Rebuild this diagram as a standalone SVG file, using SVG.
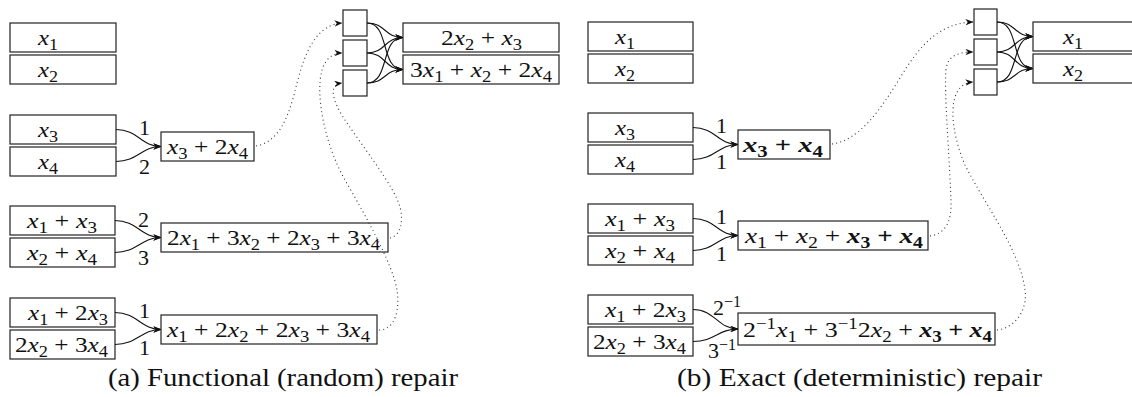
<svg xmlns="http://www.w3.org/2000/svg" width="1132" height="397" viewBox="0 0 1132 397">
<style>
.bx{fill:#fff;stroke:#222;stroke-width:1.2}
.m{font-family:"Liberation Serif",serif;font-size:22px;fill:#111}
.i{font-style:italic}
.s{font-size:16px}
.b{font-weight:bold;font-style:italic}
.bn{font-weight:bold}
.cap{font-family:"Liberation Serif",serif;font-size:25px;fill:#111}
.ar{fill:none;stroke:#111;stroke-width:1.1;marker-end:url(#ah)}
.dt{fill:none;stroke:#333;stroke-width:1.1;stroke-dasharray:1 3.2;marker-end:url(#ah)}
</style>
<defs>
<marker id="ah" viewBox="0 0 10 8" refX="9.5" refY="4" markerWidth="8" markerHeight="6.4" markerUnits="userSpaceOnUse" orient="auto"><path d="M0,0 L10,4 L0,8 L3,4 z" fill="#111"/></marker>
</defs>
<rect width="1132" height="397" fill="#fff"/>

<g id="a-x1"><rect class="bx" x="10" y="23" width="106" height="29"/><text class="m" x="38" y="45" textLength="20" lengthAdjust="spacingAndGlyphs"><tspan class="i">x</tspan><tspan class="s" dy="5">1</tspan></text></g>
<g id="a-x2"><rect class="bx" x="10" y="55" width="106" height="29"/><text class="m" x="38" y="77" textLength="20" lengthAdjust="spacingAndGlyphs"><tspan class="i">x</tspan><tspan class="s" dy="5">2</tspan></text></g>
<g id="a-x3"><rect class="bx" x="10" y="115" width="106" height="29"/><text class="m" x="38" y="137" textLength="20" lengthAdjust="spacingAndGlyphs"><tspan class="i">x</tspan><tspan class="s" dy="5">3</tspan></text></g>
<g id="a-x4"><rect class="bx" x="10" y="147" width="106" height="29"/><text class="m" x="38" y="169" textLength="20" lengthAdjust="spacingAndGlyphs"><tspan class="i">x</tspan><tspan class="s" dy="5">4</tspan></text></g>
<g id="a-s1"><rect class="bx" x="161" y="132" width="93" height="29"/><text class="m" x="167" y="154" textLength="81" lengthAdjust="spacingAndGlyphs"><tspan class="i">x</tspan><tspan class="s" dy="5">3</tspan><tspan dy="-5"> + 2</tspan><tspan class="i">x</tspan><tspan class="s" dy="5">4</tspan></text></g>

<g id="a-x1x3"><rect class="bx" x="10" y="206" width="105" height="29"/><text class="m" x="27" y="228" textLength="70" lengthAdjust="spacingAndGlyphs"><tspan class="i">x</tspan><tspan class="s" dy="5">1</tspan><tspan dy="-5"> + </tspan><tspan class="i">x</tspan><tspan class="s" dy="5">3</tspan></text></g>
<g id="a-x2x4"><rect class="bx" x="10" y="238" width="105" height="29"/><text class="m" x="27" y="260" textLength="70" lengthAdjust="spacingAndGlyphs"><tspan class="i">x</tspan><tspan class="s" dy="5">2</tspan><tspan dy="-5"> + </tspan><tspan class="i">x</tspan><tspan class="s" dy="5">4</tspan></text></g>
<g id="a-s2"><rect class="bx" x="161" y="223" width="227" height="29"/><text class="m" x="167" y="245" textLength="213" lengthAdjust="spacingAndGlyphs"><tspan>2</tspan><tspan class="i">x</tspan><tspan class="s" dy="5">1</tspan><tspan dy="-5"> + 3</tspan><tspan class="i">x</tspan><tspan class="s" dy="5">2</tspan><tspan dy="-5"> + 2</tspan><tspan class="i">x</tspan><tspan class="s" dy="5">3</tspan><tspan dy="-5"> + 3</tspan><tspan class="i">x</tspan><tspan class="s" dy="5">4</tspan></text></g>

<g id="a-x1x3b"><rect class="bx" x="10" y="298" width="105" height="29"/><text class="m" x="28" y="320" textLength="80" lengthAdjust="spacingAndGlyphs"><tspan class="i">x</tspan><tspan class="s" dy="5">1</tspan><tspan dy="-5"> + 2</tspan><tspan class="i">x</tspan><tspan class="s" dy="5">3</tspan></text></g>
<g id="a-x2x4b"><rect class="bx" x="10" y="330" width="105" height="29"/><text class="m" x="15" y="352" textLength="93" lengthAdjust="spacingAndGlyphs"><tspan>2</tspan><tspan class="i">x</tspan><tspan class="s" dy="5">2</tspan><tspan dy="-5"> + 3</tspan><tspan class="i">x</tspan><tspan class="s" dy="5">4</tspan></text></g>
<g id="a-s3"><rect class="bx" x="161" y="315" width="216" height="29"/><text class="m" x="167" y="337" textLength="203" lengthAdjust="spacingAndGlyphs"><tspan class="i">x</tspan><tspan class="s" dy="5">1</tspan><tspan dy="-5"> + 2</tspan><tspan class="i">x</tspan><tspan class="s" dy="5">2</tspan><tspan dy="-5"> + 2</tspan><tspan class="i">x</tspan><tspan class="s" dy="5">3</tspan><tspan dy="-5"> + 3</tspan><tspan class="i">x</tspan><tspan class="s" dy="5">4</tspan></text></g>

<g id="a-n1"><rect class="bx" x="343" y="10" width="24" height="26"/></g>
<g id="a-n2"><rect class="bx" x="343" y="40" width="24" height="26"/></g>
<g id="a-n3"><rect class="bx" x="343" y="70" width="24" height="26"/></g>
<g id="a-o1"><rect class="bx" x="403" y="23" width="156" height="29"/><text class="m" x="441" y="45" textLength="81" lengthAdjust="spacingAndGlyphs"><tspan>2</tspan><tspan class="i">x</tspan><tspan class="s" dy="5">2</tspan><tspan dy="-5"> + </tspan><tspan class="i">x</tspan><tspan class="s" dy="5">3</tspan></text></g>
<g id="a-o2"><rect class="bx" x="403" y="55" width="156" height="29"/><text class="m" x="410" y="77" textLength="142" lengthAdjust="spacingAndGlyphs"><tspan>3</tspan><tspan class="i">x</tspan><tspan class="s" dy="5">1</tspan><tspan dy="-5"> + </tspan><tspan class="i">x</tspan><tspan class="s" dy="5">2</tspan><tspan dy="-5"> + 2</tspan><tspan class="i">x</tspan><tspan class="s" dy="5">4</tspan></text></g>

<g id="a-labels" class="m">
<text x="139" y="135">1</text><text x="139" y="174">2</text>
<text x="138" y="227">2</text><text x="138" y="265">3</text>
<text x="139" y="318">1</text><text x="139" y="355">1</text>
</g>
<text id="cap-a" class="cap" x="108" y="386" textLength="350" lengthAdjust="spacingAndGlyphs">(a) Functional (random) repair</text>

<g id="b-x1"><rect class="bx" x="588" y="22" width="105" height="29"/><text class="m" x="615" y="44" textLength="20" lengthAdjust="spacingAndGlyphs"><tspan class="i">x</tspan><tspan class="s" dy="5">1</tspan></text></g>
<g id="b-x2"><rect class="bx" x="588" y="54" width="105" height="29"/><text class="m" x="615" y="76" textLength="20" lengthAdjust="spacingAndGlyphs"><tspan class="i">x</tspan><tspan class="s" dy="5">2</tspan></text></g>
<g id="b-x3"><rect class="bx" x="588" y="113" width="105" height="29"/><text class="m" x="615" y="135" textLength="20" lengthAdjust="spacingAndGlyphs"><tspan class="i">x</tspan><tspan class="s" dy="5">3</tspan></text></g>
<g id="b-x4"><rect class="bx" x="588" y="145" width="105" height="29"/><text class="m" x="615" y="167" textLength="20" lengthAdjust="spacingAndGlyphs"><tspan class="i">x</tspan><tspan class="s" dy="5">4</tspan></text></g>
<g id="b-s1"><rect class="bx" x="738" y="130" width="92" height="29"/><text class="m" x="743" y="152" textLength="80" lengthAdjust="spacingAndGlyphs"><tspan class="b">x</tspan><tspan class="s bn" dy="5">3</tspan><tspan class="bn" dy="-5"> + </tspan><tspan class="b">x</tspan><tspan class="s bn" dy="5">4</tspan></text></g>

<g id="b-x1x3"><rect class="bx" x="588" y="204" width="105" height="29"/><text class="m" x="605" y="226" textLength="70" lengthAdjust="spacingAndGlyphs"><tspan class="i">x</tspan><tspan class="s" dy="5">1</tspan><tspan dy="-5"> + </tspan><tspan class="i">x</tspan><tspan class="s" dy="5">3</tspan></text></g>
<g id="b-x2x4"><rect class="bx" x="588" y="236" width="105" height="29"/><text class="m" x="605" y="258" textLength="70" lengthAdjust="spacingAndGlyphs"><tspan class="i">x</tspan><tspan class="s" dy="5">2</tspan><tspan dy="-5"> + </tspan><tspan class="i">x</tspan><tspan class="s" dy="5">4</tspan></text></g>
<g id="b-s2"><rect class="bx" x="738" y="221" width="190" height="29"/><text class="m" x="745" y="243" textLength="178" lengthAdjust="spacingAndGlyphs"><tspan class="i">x</tspan><tspan class="s" dy="5">1</tspan><tspan dy="-5"> + </tspan><tspan class="i">x</tspan><tspan class="s" dy="5">2</tspan><tspan dy="-5"> + </tspan><tspan class="b">x</tspan><tspan class="s bn" dy="5">3</tspan><tspan class="bn" dy="-5"> + </tspan><tspan class="b">x</tspan><tspan class="s bn" dy="5">4</tspan></text></g>

<g id="b-x1x3b"><rect class="bx" x="588" y="295" width="105" height="29"/><text class="m" x="605" y="317" textLength="81" lengthAdjust="spacingAndGlyphs"><tspan class="i">x</tspan><tspan class="s" dy="5">1</tspan><tspan dy="-5"> + 2</tspan><tspan class="i">x</tspan><tspan class="s" dy="5">3</tspan></text></g>
<g id="b-x2x4b"><rect class="bx" x="588" y="327" width="105" height="29"/><text class="m" x="593" y="349" textLength="93" lengthAdjust="spacingAndGlyphs"><tspan>2</tspan><tspan class="i">x</tspan><tspan class="s" dy="5">2</tspan><tspan dy="-5"> + 3</tspan><tspan class="i">x</tspan><tspan class="s" dy="5">4</tspan></text></g>
<g id="b-s3"><rect class="bx" x="738" y="313" width="257" height="32"/><text class="m" x="743" y="337" textLength="249" lengthAdjust="spacingAndGlyphs"><tspan>2</tspan><tspan class="s" dy="-8">−1</tspan><tspan class="i" dy="8">x</tspan><tspan class="s" dy="5">1</tspan><tspan dy="-5"> + 3</tspan><tspan class="s" dy="-8">−1</tspan><tspan dy="8">2</tspan><tspan class="i">x</tspan><tspan class="s" dy="5">2</tspan><tspan dy="-5"> + </tspan><tspan class="b">x</tspan><tspan class="s bn" dy="5">3</tspan><tspan class="bn" dy="-5"> + </tspan><tspan class="b">x</tspan><tspan class="s bn" dy="5">4</tspan></text></g>

<g id="b-n1"><rect class="bx" x="974" y="9" width="23" height="26"/></g>
<g id="b-n2"><rect class="bx" x="974" y="39" width="23" height="26"/></g>
<g id="b-n3"><rect class="bx" x="974" y="69" width="23" height="26"/></g>
<g id="b-o1"><rect class="bx" x="1033" y="22" width="110" height="29"/><text class="m" x="1063" y="44" textLength="20" lengthAdjust="spacingAndGlyphs"><tspan class="i">x</tspan><tspan class="s" dy="5">1</tspan></text></g>
<g id="b-o2"><rect class="bx" x="1033" y="54" width="110" height="29"/><text class="m" x="1063" y="76" textLength="20" lengthAdjust="spacingAndGlyphs"><tspan class="i">x</tspan><tspan class="s" dy="5">2</tspan></text></g>

<g id="b-labels" class="m">
<text x="716" y="133">1</text><text x="716" y="169">1</text>
<text x="716" y="224">1</text><text x="716" y="261">1</text>
<text x="713" y="315">2<tspan class="s" dy="-8">−1</tspan></text>
<text x="708" y="358">3<tspan class="s" dy="-8">−1</tspan></text>
</g>
<text id="cap-b" class="cap" x="677" y="386" textLength="365" lengthAdjust="spacingAndGlyphs">(b) Exact (deterministic) repair</text>

<g id="connectors">
<path class="ar" d="M116 129.5 C138 129.5,141 146.5,161 146.5"/>
<path class="ar" d="M116 161.5 C138 161.5,141 146.5,161 146.5"/>
<path class="ar" d="M115 220.5 C137 220.5,141 237.5,161 237.5"/>
<path class="ar" d="M115 252.5 C137 252.5,141 237.5,161 237.5"/>
<path class="ar" d="M115 312.5 C137 312.5,141 329.5,161 329.5"/>
<path class="ar" d="M115 344.5 C137 344.5,141 329.5,161 329.5"/>
<path class="ar" d="M367 23 C386 23,384 37.5,403 37.5"/>
<path class="ar" d="M367 23 C390 23,380 69.5,403 69.5"/>
<path class="ar" d="M367 53 C386 53,384 37.5,403 37.5"/>
<path class="ar" d="M367 53 C386 53,384 69.5,403 69.5"/>
<path class="ar" d="M367 83 C390 83,380 37.5,403 37.5"/>
<path class="ar" d="M367 83 C386 83,384 69.5,403 69.5"/>
<path class="dt" d="M256 146 C278 142,287 120,294 95 C302 62,312 25,342 23"/>
<path class="dt" d="M390 238 C400 236,404 222,400 207 C394 186,365 150,345 120 C335 105,326 85,342 83"/>
<path class="dt" d="M379 330 C395 330,400 310,397 290 C392 262,365 215,345 180 C325 145,315 95,322 70 C325 60,332 53,342 53"/>
<path class="ar" d="M693 127.5 C715 127.5,718 144.5,738 144.5"/>
<path class="ar" d="M693 159.5 C715 159.5,718 144.5,738 144.5"/>
<path class="ar" d="M693 218.5 C715 218.5,718 235.5,738 235.5"/>
<path class="ar" d="M693 250.5 C715 250.5,718 235.5,738 235.5"/>
<path class="ar" d="M693 309.5 C715 309.5,718 329,738 329"/>
<path class="ar" d="M693 341.5 C715 341.5,718 329,738 329"/>
<path class="ar" d="M997 22 C1016 22,1014 36.5,1033 36.5"/>
<path class="ar" d="M997 22 C1020 22,1010 68.5,1033 68.5"/>
<path class="ar" d="M997 52 C1016 52,1014 36.5,1033 36.5"/>
<path class="ar" d="M997 52 C1016 52,1014 68.5,1033 68.5"/>
<path class="ar" d="M997 82 C1020 82,1010 36.5,1033 36.5"/>
<path class="ar" d="M997 82 C1016 82,1014 68.5,1033 68.5"/>
<path class="dt" d="M832 144 C860 140,880 110,900 78 C918 48,938 23,973 22"/>
<path class="dt" d="M930 236 C945 234,952 222,951 200 C949 150,944 90,946 70 C947 58,955 52,973 52"/>
<path class="dt" d="M997 330 C1015 328,1028 310,1025 290 C1020 250,985 205,965 165 C950 130,945 84,973 82"/>
</g>
</svg>
